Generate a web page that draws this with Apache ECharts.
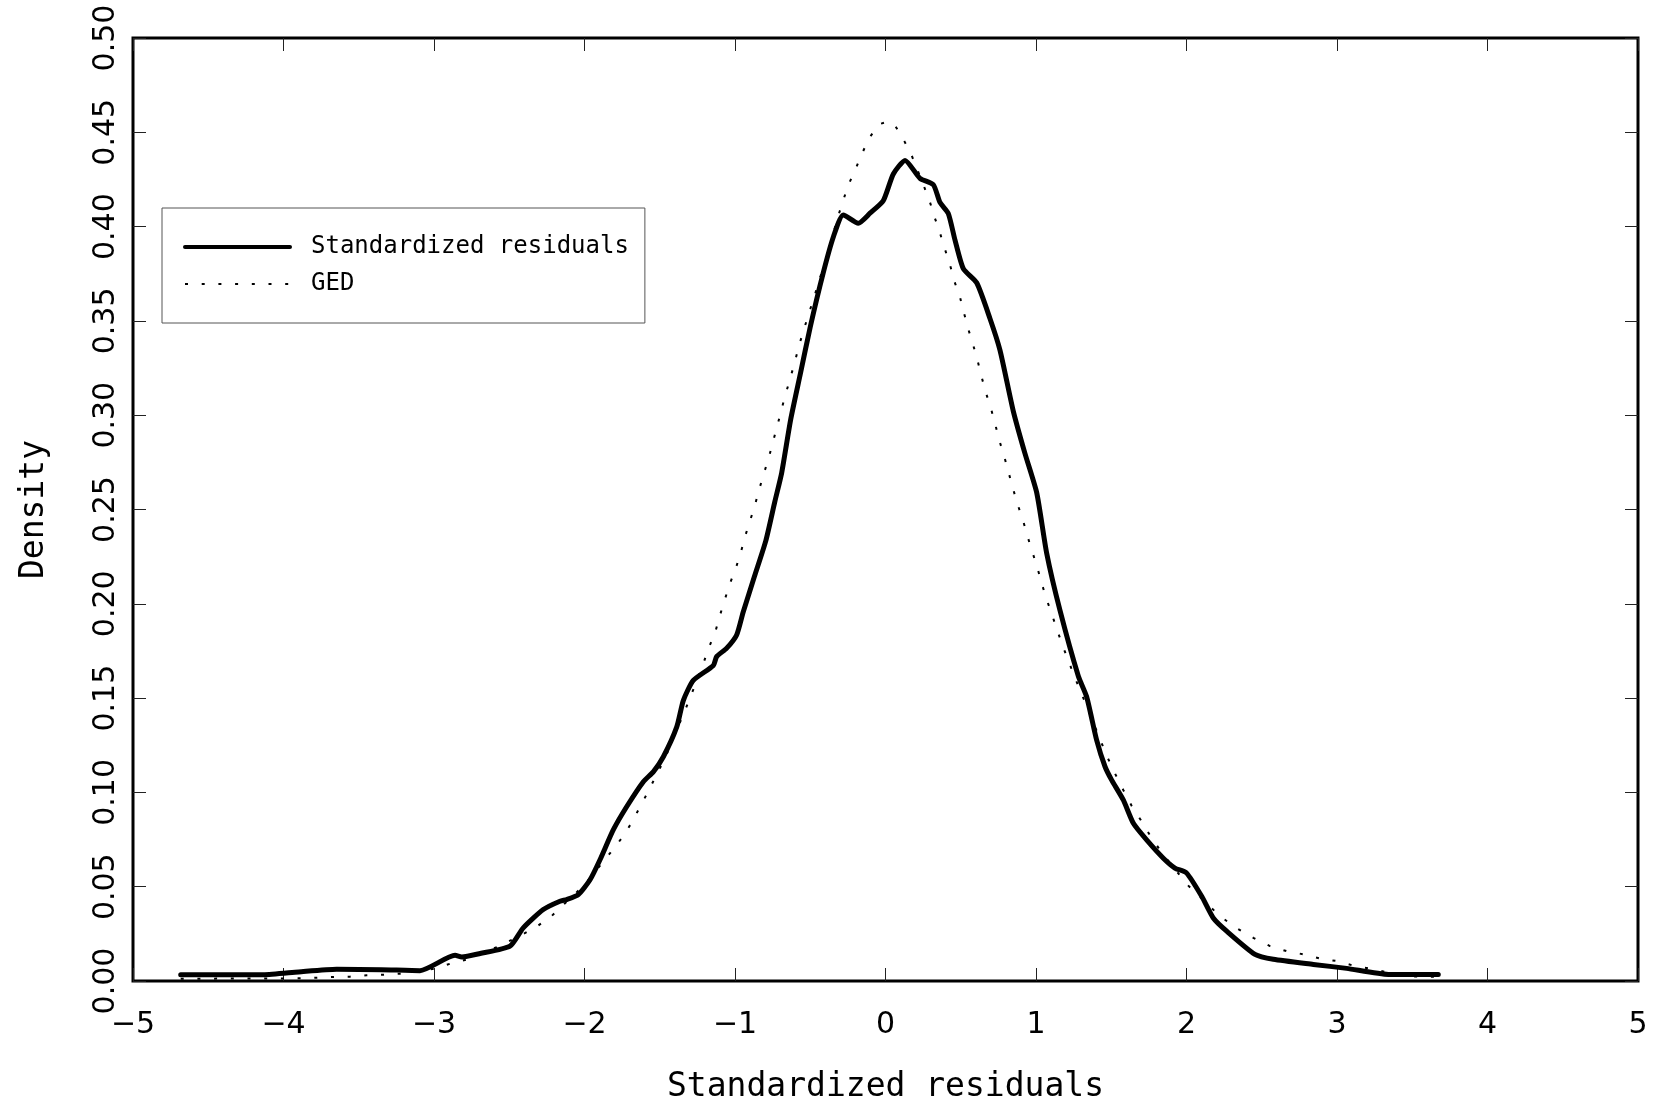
<!DOCTYPE html>
<html>
<head>
<meta charset="utf-8">
<script src="https://cdn.jsdelivr.net/npm/echarts@6/dist/echarts.min.js"></script>
<style>
html,body{margin:0;padding:0;background:#fff;}
#chart{width:1661px;height:1109px;}
</style>
</head>
<body>
<div id="chart"></div>
<script>
// Kernel density of standardized residuals (solid)
const resX = [-4.683,-4.134,-3.900,-3.647,-3.350,-3.093,-2.860,-2.816,-2.694,-2.495,-2.407,-2.274,-2.163,-2.118,-2.041,-1.963,-1.897,-1.809,-1.720,-1.609,-1.543,-1.476,-1.387,-1.343,-1.277,-1.144,-1.122,-1.055,-0.989,-0.945,-0.870,-0.795,-0.735,-0.690,-0.630,-0.565,-0.500,-0.415,-0.345,-0.280,-0.181,-0.103,-0.015,0.052,0.130,0.229,0.318,0.362,0.417,0.462,0.517,0.606,0.694,0.761,0.849,0.927,1.005,1.071,1.159,1.281,1.337,1.403,1.459,1.503,1.580,1.647,1.735,1.846,1.923,2.001,2.101,2.178,2.267,2.455,2.577,2.843,3.064,3.341,3.673];
const resY = [0.0033,0.0033,0.0048,0.0062,0.0060,0.0055,0.0136,0.0127,0.0146,0.0185,0.0282,0.0379,0.0423,0.0432,0.0458,0.0537,0.0643,0.0801,0.0924,0.1057,0.1109,0.1189,0.1347,0.1488,0.1594,0.1673,0.1720,0.1765,0.1835,0.1958,0.2147,0.2335,0.2543,0.2694,0.2977,0.3222,0.3468,0.3751,0.3949,0.4062,0.4018,0.4071,0.4137,0.4279,0.4351,0.4256,0.4222,0.4128,0.4070,0.3928,0.3777,0.3702,0.3513,0.3344,0.3022,0.2796,0.2588,0.2268,0.1966,0.1617,0.1506,0.1277,0.1136,0.1065,0.0960,0.0836,0.0748,0.0651,0.0599,0.0572,0.0449,0.0334,0.0264,0.0141,0.0115,0.0088,0.0067,0.0035,0.0035];

// Fitted GED density (dotted)
const gedX = [-4.683,-4.300,-3.895,-3.784,-3.673,-3.558,-3.447,-3.337,-3.226,-3.000,-2.887,-2.779,-2.557,-2.329,-2.218,-2.000,-1.830,-1.753,-1.686,-1.631,-1.571,-1.520,-1.465,-1.421,-1.332,-1.288,-1.211,-1.175,-1.133,-1.100,-1.067,-1.033,-0.996,-0.962,-0.934,-0.900,-0.867,-0.838,-0.807,-0.774,-0.746,-0.717,-0.690,-0.661,-0.630,-0.601,-0.573,-0.541,-0.508,-0.473,-0.442,-0.406,-0.373,-0.320,-0.285,-0.251,-0.203,-0.158,-0.110,-0.043,0.008,0.058,0.125,0.174,0.256,0.296,0.329,0.362,0.395,0.429,0.462,0.495,0.522,0.550,0.583,0.613,0.639,0.668,0.699,0.728,0.754,0.787,0.816,0.845,0.876,0.912,0.942,0.975,1.009,1.038,1.071,1.108,1.144,1.181,1.219,1.248,1.303,1.473,1.525,1.580,1.636,1.696,1.762,1.835,2.005,2.218,2.329,2.444,2.555,2.666,2.781,2.892,2.998,3.120,3.226,3.452,3.563,3.673];
const gedY = [0.0012,0.0013,0.0014,0.0017,0.0021,0.0023,0.0030,0.0033,0.0039,0.0065,0.0093,0.0115,0.0188,0.0282,0.0345,0.0510,0.0678,0.0757,0.0840,0.0924,0.1013,0.1097,0.1180,0.1268,0.1435,0.1523,0.1682,0.1765,0.1845,0.1939,0.2024,0.2109,0.2185,0.2270,0.2355,0.2440,0.2525,0.2610,0.2694,0.2779,0.2864,0.2949,0.3034,0.3119,0.3203,0.3288,0.3373,0.3458,0.3543,0.3628,0.3713,0.3798,0.3883,0.4043,0.4128,0.4213,0.4298,0.4383,0.4468,0.4543,0.4555,0.4543,0.4453,0.4377,0.4213,0.4128,0.4043,0.3966,0.3880,0.3796,0.3700,0.3626,0.3540,0.3457,0.3371,0.3286,0.3202,0.3117,0.3041,0.2956,0.2872,0.2787,0.2702,0.2617,0.2532,0.2447,0.2362,0.2277,0.2192,0.2108,0.2023,0.1938,0.1853,0.1768,0.1693,0.1627,0.1523,0.1189,0.1100,0.1013,0.0928,0.0854,0.0766,0.0681,0.0511,0.0347,0.0282,0.0229,0.0185,0.0158,0.0141,0.0118,0.0106,0.0079,0.0065,0.0026,0.0023,0.0023];

const seriesNames = ['Standardized residuals', 'GED'];
const xAxisTitle = 'Standardized residuals';
const yAxisTitle = 'Density';
const xMin = -5, xMax = 5, xStep = 1;
const yMin = 0, yMax = 0.5, yStep = 0.05;

const pairs = (xs, ys) => xs.map((x, i) => [x, ys[i]]);

const labelFont = '"DejaVu Sans", sans-serif';
const monoFont = '"DejaVu Sans Mono", "Liberation Mono", monospace';

const tickStyle = { show: true, inside: true, length: 13, lineStyle: { color: '#222', width: 1 } };
const hiddenLine = { show: false, onZero: false };

const solidStyle = { color: '#000', width: 5, join: 'round', cap: 'round' };
const dotStyle = { color: '#000', width: 2, type: [3, 13.7] };

const chart = echarts.init(document.getElementById('chart'), null, { renderer: 'canvas' });
chart.setOption({
  backgroundColor: '#ffffff',
  animation: false,
  grid: {
    left: 133, right: 23, top: 38, bottom: 124,
    show: true, borderColor: '#000', borderWidth: 3, backgroundColor: 'transparent'
  },
  legend: {
    left: 162, top: 208,
    orient: 'vertical',
    backgroundColor: '#fff',
    borderColor: '#555', borderWidth: 1,
    padding: [27, 16, 27, 21],
    itemWidth: 105, itemHeight: 24, itemGap: 13,
    itemStyle: { opacity: 0 },
    textStyle: { fontFamily: monoFont, fontSize: 24, color: '#000', padding: [0, 0, 0, 16], lineHeight: 24 },
    data: [
      { name: seriesNames[0], lineStyle: { color: '#000', width: 4, type: 'solid' } },
      { name: seriesNames[1], lineStyle: { color: '#000', width: 2, type: [3, 13.7] } }
    ]
  },
  xAxis: [{
    type: 'value', min: xMin, max: xMax, interval: xStep, position: 'bottom',
    axisLine: hiddenLine, splitLine: { show: false },
    axisTick: tickStyle,
    axisLabel: {
      margin: 29, fontFamily: labelFont, fontSize: 30, color: '#000',
      formatter: v => String(v).replace('-', '\u2212')
    },
    name: xAxisTitle, nameLocation: 'middle', nameGap: 90,
    nameTextStyle: { fontFamily: monoFont, fontSize: 33, color: '#000' }
  }, {
    type: 'value', min: xMin, max: xMax, interval: xStep, position: 'top',
    axisLine: hiddenLine, splitLine: { show: false },
    axisTick: tickStyle, axisLabel: { show: false }
  }],
  yAxis: [{
    type: 'value', min: yMin, max: yMax, interval: yStep, position: 'left',
    axisLine: hiddenLine, splitLine: { show: false },
    axisTick: tickStyle,
    axisLabel: {
      rotate: 90, margin: 12, fontFamily: labelFont, fontSize: 30, color: '#000',
      formatter: v => v.toFixed(2)
    },
    name: yAxisTitle, nameLocation: 'middle', nameGap: 82,
    nameTextStyle: { fontFamily: monoFont, fontSize: 33, color: '#000' }
  }, {
    type: 'value', min: yMin, max: yMax, interval: yStep, position: 'right',
    axisLine: hiddenLine, splitLine: { show: false },
    axisTick: tickStyle, axisLabel: { show: false }
  }],
  series: [{
    name: seriesNames[0], type: 'line', xAxisIndex: 0, yAxisIndex: 0,
    data: pairs(resX, resY), symbol: 'none', smooth: 0.2,
    lineStyle: solidStyle, itemStyle: { color: '#000' }, z: 3
  }, {
    name: seriesNames[1], type: 'line', xAxisIndex: 0, yAxisIndex: 0,
    data: pairs(gedX, gedY), symbol: 'none', smooth: false,
    lineStyle: dotStyle, itemStyle: { color: '#000' }, z: 2
  }]
});
</script>
</body>
</html>
